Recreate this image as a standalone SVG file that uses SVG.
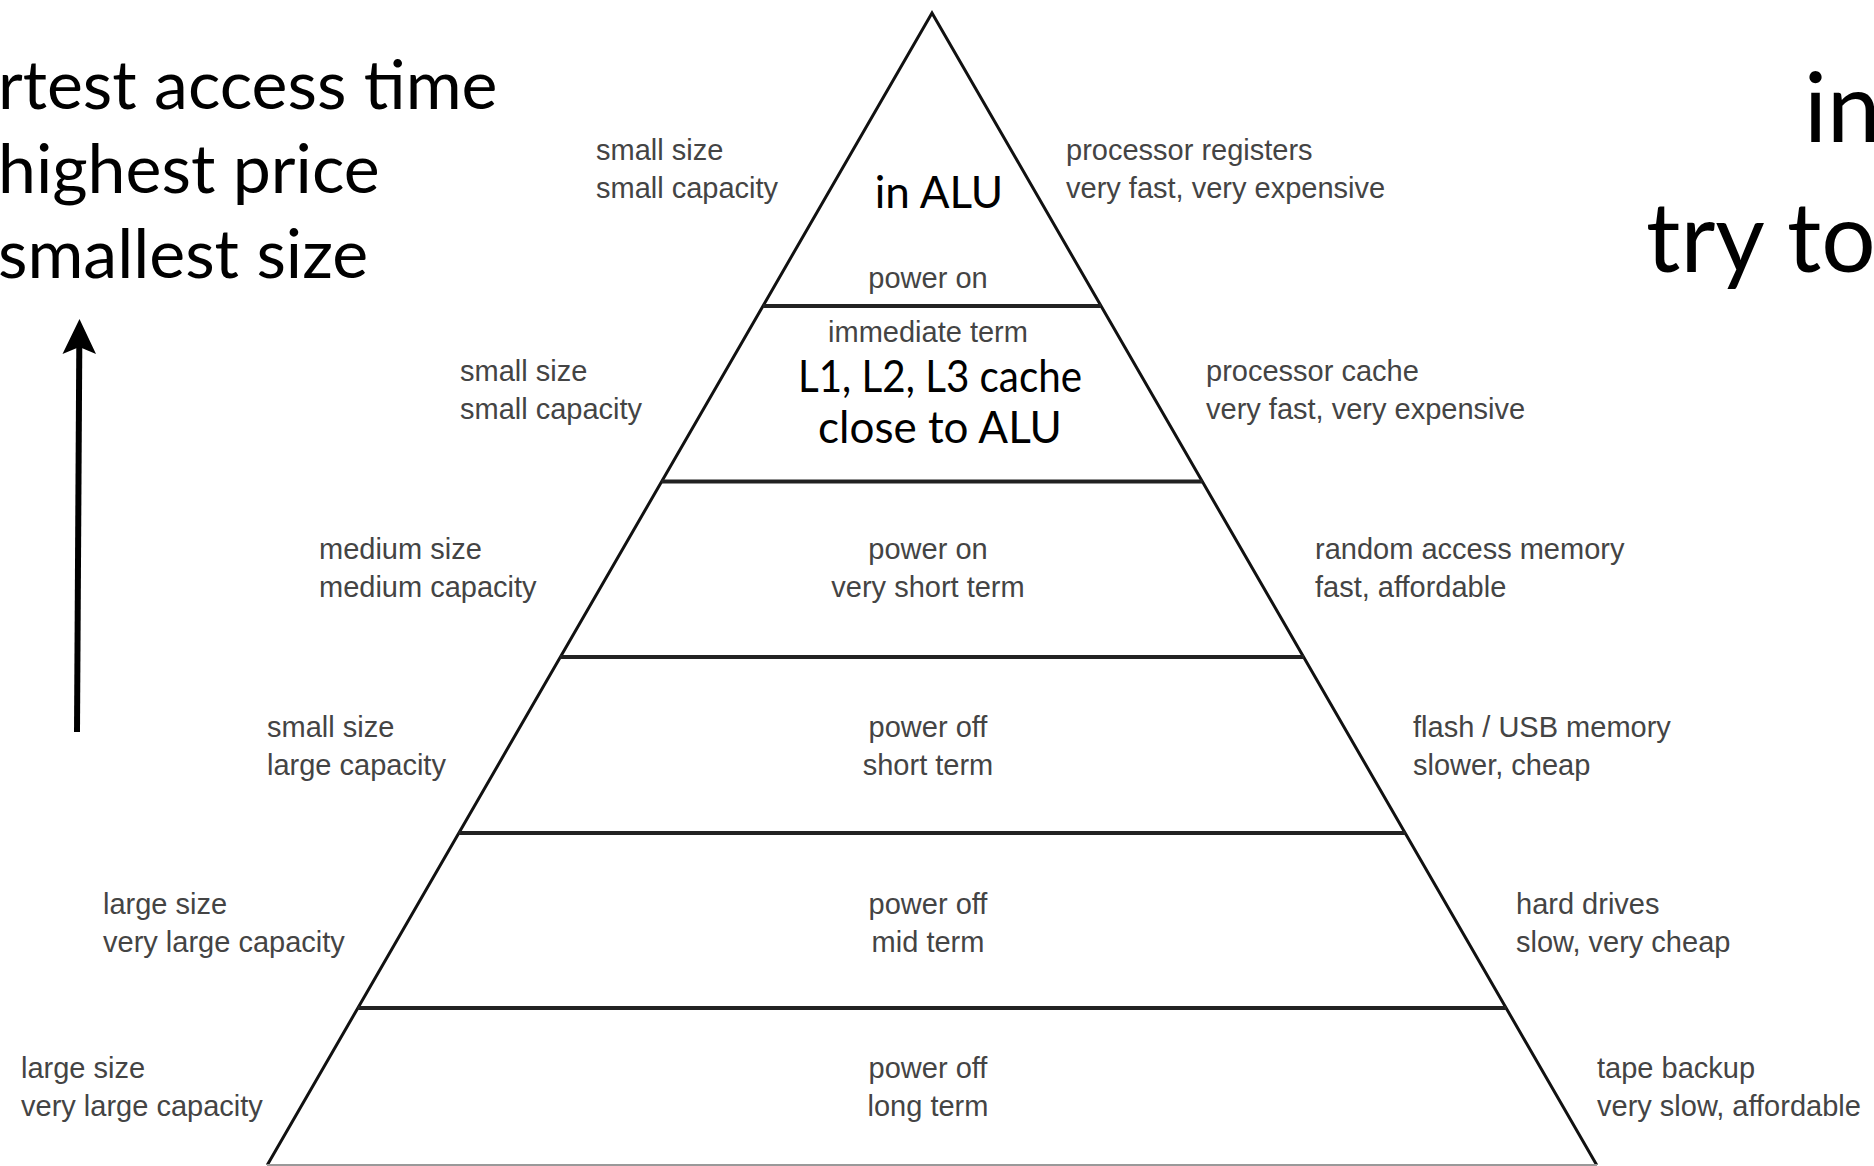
<svg xmlns="http://www.w3.org/2000/svg" width="1874" height="1166" viewBox="0 0 1874 1166">
<style>
.big{font-family:Lato,"Liberation Sans",sans-serif;fill:#000}
.head{font-size:68px}
.headr{font-size:96px}
.mid{font-size:44px;text-anchor:middle}
.sm{font-family:"Liberation Sans",Arial,sans-serif;font-size:29px;fill:#444}
.c{text-anchor:middle}
.edge{stroke:#111;stroke-width:3;fill:none}
.tier{stroke:#222;stroke-width:4;fill:none}
</style>
<rect width="1874" height="1166" fill="#fff"/>
<g id="headline-left" class="big head">
<text x="-2" y="109">rtest access time</text>
<text x="-2" y="193">highest price</text>
<text x="-2" y="278">smallest size</text>
</g>
<g id="headline-right" class="big headr">
<text x="1804" y="142">in</text>
<text x="1646" y="272">try to</text>
</g>
<g id="connectors">
<line x1="77" y1="732" x2="79.3" y2="345" stroke="#000" stroke-width="6"/>
<path d="M79.5,319 L96,354 L79.3,347 L62.5,354 Z" fill="#000"/>
</g>
<g id="pyramid">
<path class="edge" d="M267.3,1165 L932,13 L1596.7,1165"/>
<line class="tier" x1="763" y1="306" x2="1101" y2="306"/>
<line class="tier" x1="661.5" y1="481.5" x2="1202.5" y2="481.5"/>
<line class="tier" x1="560" y1="657" x2="1304" y2="657"/>
<line class="tier" x1="458.5" y1="833" x2="1405.5" y2="833"/>
<line class="tier" x1="357.5" y1="1008" x2="1506.5" y2="1008"/>
<line x1="267" y1="1165" x2="1597" y2="1165" stroke="#999" stroke-width="2"/>
</g>
<g id="tier1">
<text class="big mid" x="939" y="208">in ALU</text>
<text class="sm c" x="928" y="288">power on</text>
<text class="sm" x="596" y="160">small size</text>
<text class="sm" x="596" y="198">small capacity</text>
<text class="sm" x="1066" y="160">processor registers</text>
<text class="sm" x="1066" y="198">very fast, very expensive</text>
</g>
<g id="tier2">
<text class="sm c" x="928" y="342">immediate term</text>
<text class="big mid" x="940" y="392" textLength="284" lengthAdjust="spacingAndGlyphs">L1, L2, L3 cache</text>
<text class="big mid" x="940" y="443">close to ALU</text>
<text class="sm" x="460" y="381">small size</text>
<text class="sm" x="460" y="419">small capacity</text>
<text class="sm" x="1206" y="381">processor cache</text>
<text class="sm" x="1206" y="419">very fast, very expensive</text>
</g>
<g id="tier3">
<text class="sm c" x="928" y="559">power on</text>
<text class="sm c" x="928" y="597">very short term</text>
<text class="sm" x="319" y="559">medium size</text>
<text class="sm" x="319" y="597">medium capacity</text>
<text class="sm" x="1315" y="559">random access memory</text>
<text class="sm" x="1315" y="597">fast, affordable</text>
</g>
<g id="tier4">
<text class="sm c" x="928" y="737">power off</text>
<text class="sm c" x="928" y="775">short term</text>
<text class="sm" x="267" y="737">small size</text>
<text class="sm" x="267" y="775">large capacity</text>
<text class="sm" x="1413" y="737">flash / USB memory</text>
<text class="sm" x="1413" y="775">slower, cheap</text>
</g>
<g id="tier5">
<text class="sm c" x="928" y="914">power off</text>
<text class="sm c" x="928" y="952">mid term</text>
<text class="sm" x="103" y="914">large size</text>
<text class="sm" x="103" y="952">very large capacity</text>
<text class="sm" x="1516" y="914">hard drives</text>
<text class="sm" x="1516" y="952">slow, very cheap</text>
</g>
<g id="tier6">
<text class="sm c" x="928" y="1078">power off</text>
<text class="sm c" x="928" y="1116">long term</text>
<text class="sm" x="21" y="1078">large size</text>
<text class="sm" x="21" y="1116">very large capacity</text>
<text class="sm" x="1597" y="1078">tape backup</text>
<text class="sm" x="1597" y="1116">very slow, affordable</text>
</g>
</svg>
